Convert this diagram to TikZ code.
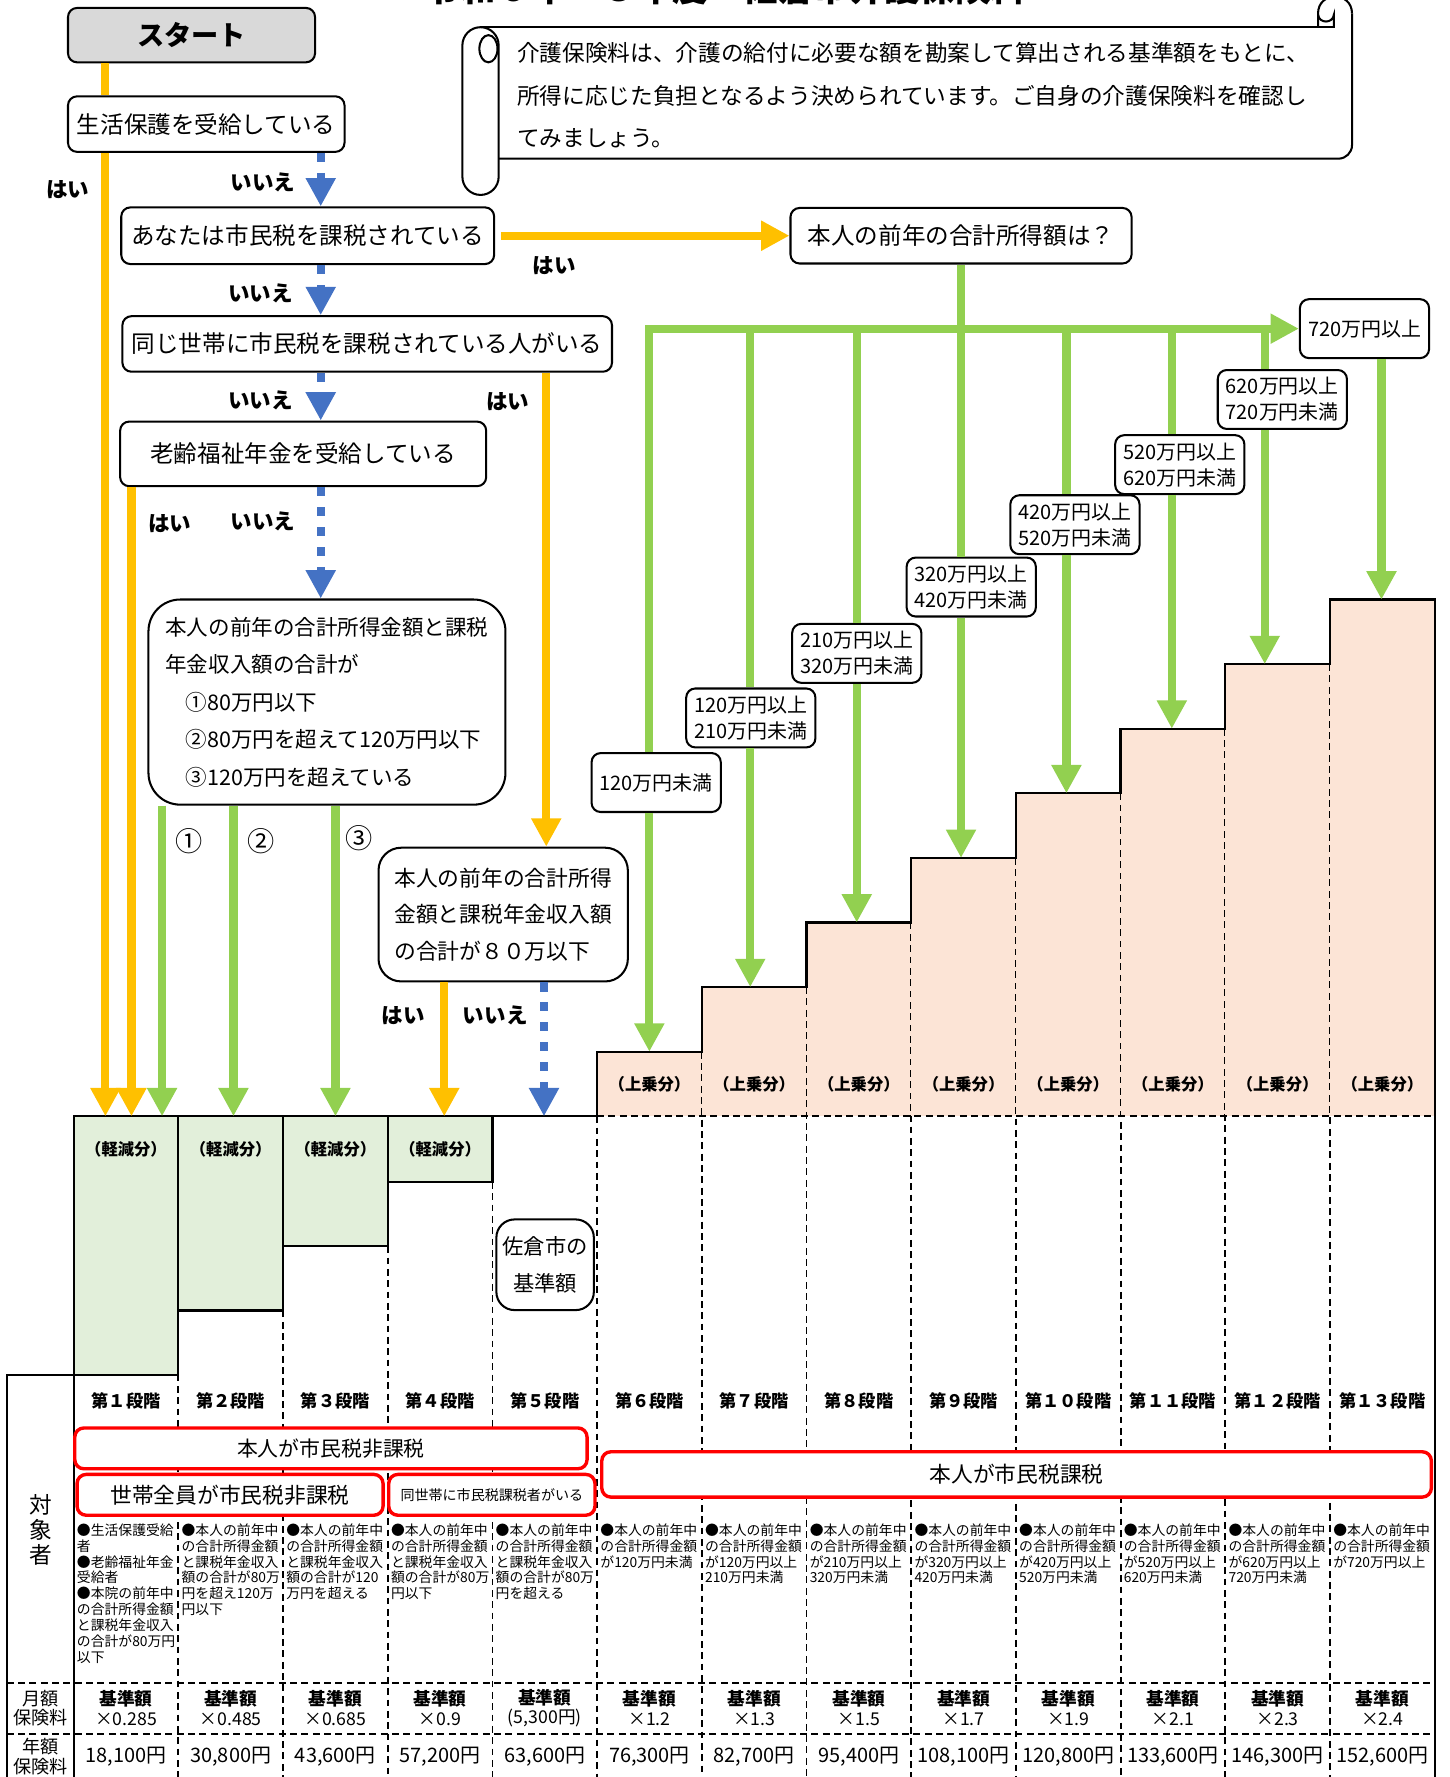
\documentclass[tikz,border=0pt]{standalone}
\usepackage{fontspec}
\setmainfont{Noto Sans CJK JP}
\usetikzlibrary{arrows.meta}
\definecolor{ylw}{HTML}{FFC000}
\definecolor{grn}{HTML}{92D050}
\definecolor{blu}{HTML}{4472C4}
\definecolor{peach}{HTML}{FCE4D6}
\definecolor{mint}{HTML}{E2EFDA}
\definecolor{startgray}{HTML}{D9D9D9}
\newcommand{\setfs}[2]{\fontsize{#1pt}{#2pt}\selectfont}

\begin{document}
\begin{tikzpicture}[x=0.5pt,y=-0.5pt,
  qbox/.style={draw, line width=0.9pt, rounded corners=4pt, fill=white, inner sep=0pt, font=\setfs{10.4}{13}},
  rangebox/.style={draw, line width=0.9pt, rounded corners=4pt, fill=white, inner sep=0pt, align=left,
    font=\setfs{8.8}{11.5}, minimum width=57pt, minimum height=26pt},
  redbox/.style={draw=red, line width=1.5pt, rounded corners=4pt, fill=white, inner sep=0pt},
  ans/.style={font=\bfseries\setfs{9.5}{11}},
  yline/.style={draw=ylw, line width=3.6pt},
  yarrow/.style={yline, -{Triangle[width=12.5pt,length=12.5pt]}},
  gline/.style={draw=grn, line width=3.6pt},
  garrow/.style={gline, -{Triangle[width=12.5pt,length=12.5pt]}},
  barrow/.style={draw=blu, line width=3.6pt, dash pattern=on 4pt off 4.8pt, -{Triangle[width=12.5pt,length=12.5pt]}},
  solidline/.style={line width=1pt},
  dashline/.style={line width=0.8pt, dash pattern=on 3pt off 2pt},
]
\useasboundingbox (0,0) rectangle (1279,1568);

% Title (cut at the top edge)
\node[anchor=base, inner sep=0pt, font=\bfseries\setfs{15.6}{18}] (title) at (640,1) {令和６年～８年度　佐倉市介護保険料};

% Stairs above the base amount
\foreach \k in {6,...,13}{
  \pgfmathsetmacro{\xl}{65+92.38*(\k-1)}
  \pgfmathsetmacro{\xr}{65+92.38*\k}
  \pgfmathsetmacro{\yt}{928-57*(\k-6)}
  \fill[peach] (\xl,\yt) rectangle (\xr,985);
  \node[font=\bfseries\setfs{7.2}{9}] (up\k) at ({(\xl+\xr)/2},957) {（上乗分）};
  \ifnum\k<13 \draw[dashline] (\xr,\yt) -- (\xr,1580); \fi
}
\draw[dashline] (526.9,985) -- (1266,985);
\draw[dashline] (526.9,985) -- (526.9,1580);
\draw[solidline] (526.9,985) |- (619.3,928) |- (711.7,871) |- (804.0,814) |- (896.4,757)
  |- (988.8,700) |- (1081.2,643) |- (1173.6,586) |- (1266,529) -- (1266,1580);

% Reduced part of stages 1-4
\foreach \k/\yb in {1/1213,2/1156.3,3/1099.6,4/1042.9}{
  \pgfmathsetmacro{\xl}{65+92.38*(\k-1)}
  \pgfmathsetmacro{\xr}{65+92.38*\k}
  \filldraw[fill=mint, solidline] (\xl,985) rectangle (\xr,\yb);
  \node[font=\bfseries\setfs{7.2}{9}] (down\k) at ({(\xl+\xr)/2},1014) {（軽減分）};
  \draw[dashline] (\xr,\yb) -- (\xr,1580);
}
\draw[solidline] (434.5,985) -- (526.9,985);
\draw[solidline] (65,985) -- (65,1580);
\draw[solidline] (65,1213) -- (6,1213) -- (6,1580);
\draw[dashline] (6,1485) -- (1266,1485);
\draw[dashline] (6,1530) -- (1266,1530);

% Table texts
\foreach \k/\lab in {1/第１段階,2/第２段階,3/第３段階,4/第４段階,5/第５段階,6/第６段階,7/第７段階,
    8/第８段階,9/第９段階,10/第１０段階,11/第１１段階,12/第１２段階,13/第１３段階}
  \node[font=\bfseries\setfs{7.6}{9}] (stage\k) at ({65+92.38*(\k-0.5)},1236) {\lab};

\foreach \k/\txt in {
  1/{●生活保護受給\\者\\●老齢福祉年金\\受給者\\●本院の前年中\\の合計所得金額\\と課税年金収入\\の合計が80万円\\以下},
  2/{●本人の前年中\\の合計所得金額\\と課税年金収入\\額の合計が80万\\円を超え120万\\円以下},
  3/{●本人の前年中\\の合計所得金額\\と課税年金収入\\額の合計が120\\万円を超える},
  4/{●本人の前年中\\の合計所得金額\\と課税年金収入\\額の合計が80万\\円以下},
  5/{●本人の前年中\\の合計所得金額\\と課税年金収入\\額の合計が80万\\円を超える},
  6/{●本人の前年中\\の合計所得金額\\が120万円未満},
  7/{●本人の前年中\\の合計所得金額\\が120万円以上\\210万円未満},
  8/{●本人の前年中\\の合計所得金額\\が210万円以上\\320万円未満},
  9/{●本人の前年中\\の合計所得金額\\が320万円以上\\420万円未満},
  10/{●本人の前年中\\の合計所得金額\\が420万円以上\\520万円未満},
  11/{●本人の前年中\\の合計所得金額\\が520万円以上\\620万円未満},
  12/{●本人の前年中\\の合計所得金額\\が620万円以上\\720万円未満},
  13/{●本人の前年中\\の合計所得金額\\が720万円以上}}
  \node[anchor=north west, inner sep=0pt, align=left, font=\setfs{6.1}{7}] (who\k) at ({65+92.38*(\k-1)+2.5},1344) {\txt};

\foreach \k/\rate/\yen in {1/{×0.285}/{18,100円},2/{×0.485}/{30,800円},3/{×0.685}/{43,600円},
    4/{×0.9}/{57,200円},5/{(5,300円)}/{63,600円},6/{×1.2}/{76,300円},7/{×1.3}/{82,700円},
    8/{×1.5}/{95,400円},9/{×1.7}/{108,100円},10/{×1.9}/{120,800円},11/{×2.1}/{133,600円},
    12/{×2.3}/{146,300円},13/{×2.4}/{152,600円}}{
  \node[align=center, inner sep=0pt, font=\setfs{7.8}{8.6}] (month\k) at ({65+92.38*(\k-0.5)},1507) {{\bfseries 基準額}\\\rate};
  \node[inner sep=0pt, font=\setfs{8.8}{11}] (year\k) at ({65+92.38*(\k-0.5)},1550) {\yen};
}
\node[align=center, inner sep=0pt, font=\setfs{10}{11}] (target) at (36,1350) {対\\象\\者};
\node[align=center, inner sep=0pt, font=\setfs{8}{8.5}] (monthlab) at (36,1507) {月額\\保険料};
\node[align=center, inner sep=0pt, font=\setfs{8}{8.5}] (yearlab) at (36,1550) {年額\\保険料};

% Red boxes
\node[redbox, minimum width=226pt, minimum height=18pt, font=\setfs{9.2}{11}] (nk) at (292,1278) {本人が市民税非課税};
\node[redbox, minimum width=135pt, minimum height=18pt, font=\setfs{9.6}{11}] (sz) at (203,1319) {世帯全員が市民税非課税};
\node[redbox, minimum width=91pt, minimum height=18pt, font=\setfs{6.2}{8}] (dk) at (434,1319) {同世帯に市民税課税者がいる};
\node[redbox, minimum width=366pt, minimum height=20pt, font=\setfs{9.6}{11}] (hk) at (897,1301) {本人が市民税課税};
\node[qbox, rounded corners=8pt, minimum width=43pt, minimum height=40pt, align=center, font=\setfs{9.4}{16}] (base) at (481,1116) {佐倉市の\\基準額};

% Scroll with the note
\fill[white] (440,24) rectangle (1193,140);
\draw[line width=0.9pt, rounded corners=6pt] (1193,12) -- (1193,140) -- (440,140);
\draw[line width=0.9pt] (424,24) -- (1178,24);
\draw[line width=0.9pt] (1163,24) -- (1163,12) .. controls (1163,-8) and (1193,-8) .. (1193,12);
\draw[line width=0.9pt] (1163,13) .. controls (1164,21) and (1176,21) .. (1177,13) -- (1177,24);
\draw[line width=0.9pt, fill=white, rounded corners=8pt] (408,24) rectangle (440,172);
\draw[line width=0.9pt] (431,43) ellipse (4pt and 6pt);
\node[anchor=west, inner sep=0pt, font=\setfs{10}{12}] (note1) at (456,47) {介護保険料は、介護の給付に必要な額を勘案して算出される基準額をもとに、};
\node[anchor=west, inner sep=0pt, font=\setfs{10}{12}] (note2) at (456,85) {所得に応じた負担となるよう決められています。ご自身の介護保険料を確認し};
\node[anchor=west, inner sep=0pt, font=\setfs{10}{12}] (note3) at (456,122) {てみましょう。};

% Flow boxes
\node[qbox, fill=startgray, minimum width=109pt, minimum height=24pt, font=\bfseries\setfs{12}{14}] (start) at (169,31) {スタート};
\node[qbox, minimum width=122pt, minimum height=24.5pt] (q1) at (182,109.5) {生活保護を受給している};
\node[qbox, minimum width=164.5pt, minimum height=25pt] (q2) at (271.5,208) {あなたは市民税を課税されている};
\node[qbox, minimum width=216pt, minimum height=24.5pt] (q3) at (324,303.5) {同じ世帯に市民税を課税されている人がいる};
\node[qbox, minimum width=161.5pt, minimum height=28.5pt] (q4) at (267.5,400.5) {老齢福祉年金を受給している};
\node[qbox, rounded corners=14pt, minimum width=157.5pt, minimum height=90.5pt, align=left, font=\setfs{9.5}{16.5}] (q5) at (288.5,619.5)
  {本人の前年の合計所得金額と課税\\年金収入額の合計が\\\hspace*{9pt}①80万円以下\\\hspace*{9pt}②80万円を超えて120万円以下\\\hspace*{9pt}③120万円を超えている};
\node[qbox, rounded corners=10pt, minimum width=110pt, minimum height=59pt, align=left, font=\setfs{9.6}{16}] (q6) at (444,807)
  {本人の前年の合計所得\\金額と課税年金収入額\\の合計が８０万以下};
\node[qbox, minimum width=150.5pt, minimum height=24.5pt] (inc) at (848,208) {本人の前年の合計所得額は？};

% Income ranges
\node[rangebox] (r1) at (579,690.5) {120万円未満};
\node[rangebox] (r2) at (662.5,633.5) {120万円以上\\210万円未満};
\node[rangebox] (r3) at (756,576.5) {210万円以上\\320万円未満};
\node[rangebox] (r4) at (857,518) {320万円以上\\420万円未満};
\node[rangebox] (r5) at (948.5,463) {420万円以上\\520万円未満};
\node[rangebox] (r6) at (1041,410) {520万円以上\\620万円未満};
\node[rangebox] (r7) at (1131.5,352.5) {620万円以上\\720万円未満};
\node[rangebox] (r8) at (1204,290) {720万円以上};

% Arrow ends
\coordinate (a1y) at (93,985);
\coordinate (a1o) at (116,985);
\coordinate (a1g) at (143,985);
\coordinate (a2) at (206,985);
\coordinate (a3) at (296,985);
\coordinate (a4) at (392,985);
\coordinate (a5) at (480,985);
\coordinate (nox) at (283,0);
\coordinate (yes3) at (482,0);
\coordinate (bus) at (848,290);
\coordinate (busL) at (573,290);
\coordinate (g6) at (573,928);
\coordinate (g13) at (1219,529);

% Yellow: yes
\draw[yline] (start.south -| a1y) -- (q1.north -| a1y);
\draw[yarrow] (q1.south -| a1y) -- (a1y);
\draw[yarrow, shorten <=2.5pt] (q2.east) -- (inc.west);
\draw[yarrow] (q3.south -| yes3) -- (q6.north -| yes3);
\draw[yarrow] (q4.south -| a1o) -- (a1o);
\draw[yarrow] (q6.south -| a4) -- (a4);

% Blue: no
\draw[barrow] (q1.south -| nox) -- (q2.north -| nox);
\draw[barrow] (q2.south -| nox) -- (q3.north -| nox);
\draw[barrow] (q3.south -| nox) -- (q4.north -| nox);
\draw[barrow] (q4.south -| nox) -- (q5.north -| nox);
\draw[barrow] (q6.south -| a5) -- (a5);

% Green
\foreach \c in {a1g,a2,a3}
  \draw[garrow] (q5.south -| \c) -- (\c);
\draw[gline] (inc.south) -- (bus);
\draw[garrow] (busL |- r1.north) -- (busL) -- (r8.west);
\draw[garrow] (r1.south -| busL) -- (g6);
\foreach \xx/\rr/\yy in {662/r2/871,756/r3/814,848/r4/757,941/r5/700,1034/r6/643,1116/r7/586}{
  \coordinate (gx) at (\xx,290);
  \coordinate (gend) at (\xx,\yy);
  \draw[gline] (gx) -- (gx |- \rr.north);
  \draw[garrow] (\rr.south -| gx) -- (gend);
}
\draw[garrow] (r8.south -| g13) -- (g13);

% Answer labels
\node[ans] (yes1) at (60,167) {はい};
\node[ans] (no1) at (232,161) {いいえ};
\node[ans] (yes2) at (489,234) {はい};
\node[ans] (no2) at (230,259) {いいえ};
\node[ans] (no3) at (230,353) {いいえ};
\node[ans] (yes3l) at (448,354) {はい};
\node[ans] (yes4) at (150,462) {はい};
\node[ans] (no4) at (232,460) {いいえ};
\node[ans] (yes6) at (356,896) {はい};
\node[ans] (no6) at (437,896) {いいえ};
\node[font=\setfs{12}{14}] (c1) at (167,742) {①};
\node[font=\setfs{12}{14}] (c2) at (230,742) {②};
\node[font=\setfs{12}{14}] (c3) at (317,740) {③};
\end{tikzpicture}
\end{document}
